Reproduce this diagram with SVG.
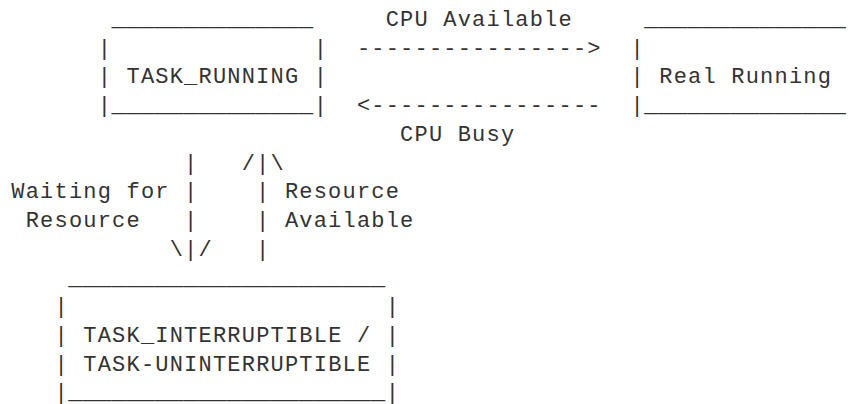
<svg xmlns="http://www.w3.org/2000/svg" width="851" height="404" viewBox="0 0 851 404">
  <style>
    text { font-family: "Liberation Mono", "DejaVu Sans Mono", monospace; fill: #333; white-space: pre; }
    .t { font-size: 22px; letter-spacing: 1.2px; }
    .u { font-size: 24px; letter-spacing: 0px; }
  </style>
  <rect width="851" height="404" fill="#ffffff"/>

  <!-- columns are 14.4px wide; rows are 28.72px apart -->
  <g id="task-running">
    <text class="u" x="111.5" y="26">______________</text>
    <text class="t" x="97.7" y="54.7">|</text>
    <text class="t" x="313.7" y="54.7">|</text>
    <text class="t" x="97.7" y="83.4" xml:space="preserve">| TASK_RUNNING |</text>
    <text class="t" x="97.7" y="112.2">|</text>
    <text class="u" x="111.5" y="112.2">______________</text>
    <text class="t" x="313.7" y="112.2">|</text>
  </g>

  <g id="real-running">
    <text class="u" x="644.3" y="26">______________</text>
    <text class="t" x="630.5" y="54.7">|</text>
    <text class="t" x="630.5" y="83.4" xml:space="preserve">| Real Running</text>
    <text class="t" x="630.5" y="112.2">|</text>
    <text class="u" x="644.3" y="112.2">______________</text>
  </g>

  <g id="task-interruptible">
    <text class="u" x="68.3" y="284.5">______________________</text>
    <text class="t" x="54.5" y="313.2">|</text>
    <text class="t" x="385.7" y="313.2">|</text>
    <text class="t" x="54.5" y="341.9" xml:space="preserve">| TASK_INTERRUPTIBLE / |</text>
    <text class="t" x="54.5" y="370.6" xml:space="preserve">| TASK-UNINTERRUPTIBLE |</text>
    <text class="t" x="54.5" y="399.4">|</text>
    <text class="u" x="68.3" y="399.4">______________________</text>
    <text class="t" x="385.7" y="399.4">|</text>
  </g>

  <g id="connectors">
    <text class="t" x="356.9" y="54.7">----------------&gt;</text>
    <text class="t" x="356.9" y="112.2">&lt;----------------</text>
    <text class="t" x="184.1" y="169.6">|</text>
    <text class="t" x="241.7" y="169.6">/|\</text>
    <text class="t" x="184.1" y="198.3">|</text>
    <text class="t" x="256.1" y="198.3">|</text>
    <text class="t" x="184.1" y="227">|</text>
    <text class="t" x="256.1" y="227">|</text>
    <text class="t" x="169.7" y="255.8">\|/</text>
    <text class="t" x="256.1" y="255.8">|</text>
  </g>

  <g id="labels">
    <text class="t" x="385.7" y="26">CPU Available</text>
    <text class="t" x="400.1" y="140.9">CPU Busy</text>
    <text class="t" x="11.3" y="198.3">Waiting for</text>
    <text class="t" x="25.7" y="227">Resource</text>
    <text class="t" x="284.9" y="198.3">Resource</text>
    <text class="t" x="284.9" y="227">Available</text>
  </g>
</svg>
